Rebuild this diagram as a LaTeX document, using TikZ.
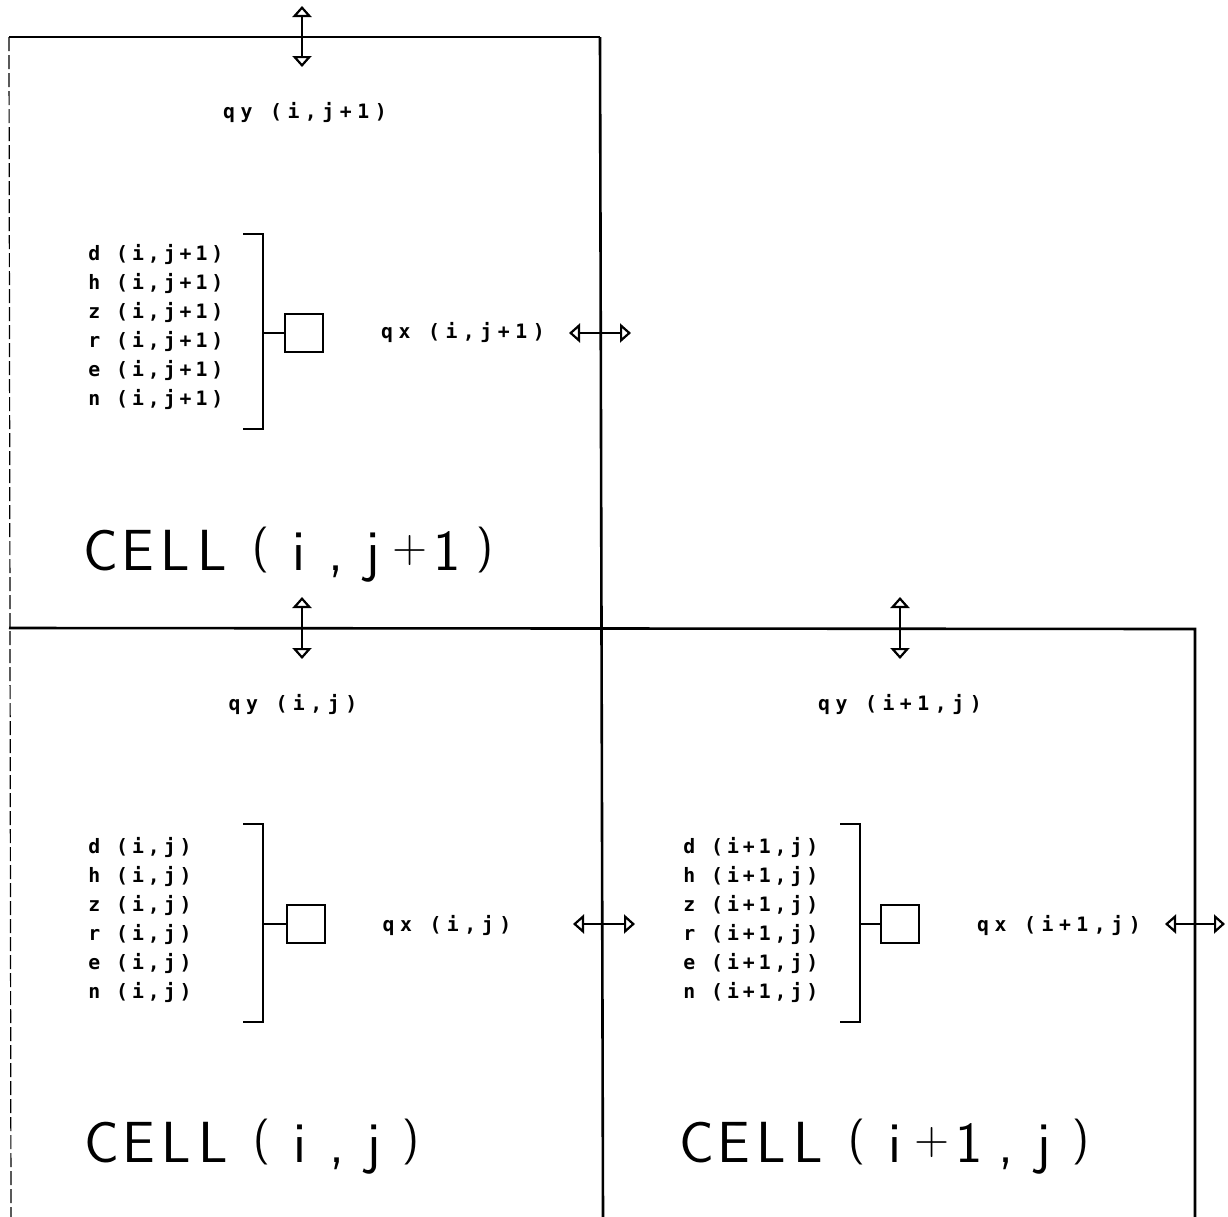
\documentclass[tikz,border=0pt]{standalone}
\usepackage{fontspec}
\usetikzlibrary{arrows.meta}
\newfontfamily\smallfont{DejaVu Sans Mono}[LetterSpace=20]
\newfontfamily\qfont{DejaVu Sans Mono}[LetterSpace=28]
\newfontfamily\bigfont{lmsans17-regular.otf}
\newcommand\cch[1]{\makebox[18.6pt]{#1}}
\newcommand\gapp{\hspace{5.75pt}}
\newcommand\plusg{\raisebox{4pt}{\fontsize{24}{26}\selectfont +}}
\newcommand\lpar{\raisebox{4.5pt}{\fontsize{23}{26}\selectfont (}}
\newcommand\rpar{\raisebox{4.5pt}{\fontsize{23}{26}\selectfont )}}
\tikzset{
  border/.style={line width=1.3pt},
  leftedge/.style={line width=0.6pt, dash pattern=on 7pt off 2pt},
  brk/.style={line width=1.3pt},
  valbox/.style={draw, line width=1pt, minimum width=19pt, minimum height=19pt, inner sep=0pt},
  flux/.style={line width=1.1pt,
    {Triangle[open,length=5.5pt,width=9.5pt]}-{Triangle[open,length=5.5pt,width=9.5pt]}},
  smalltxt/.style={inner sep=0pt, font=\smallfont\bfseries\fontsize{9.9}{14.5}\selectfont},
  qtxt/.style={inner sep=0pt, font=\qfont\bfseries\fontsize{9.9}{14.5}\selectfont},
  listtxt/.style={smalltxt, align=left, anchor=west},
  celltxt/.style={inner sep=0pt, anchor=base west, font=\bigfont\fontsize{29}{32}\selectfont},
}
\begin{document}
\begin{tikzpicture}[x=0.5pt,y=-0.5pt]
\useasboundingbox (0,0) rectangle (1228,1217);
% cell borders
\draw[leftedge] (9,37) -- (11,1217);
\draw[border] (9,37) -- (600,37);
\draw[border] (600,37) -- (603,1217);
\draw[border] (9,628) -- (1195,629) -- (1195,1217);

% ---------- CELL (i,j+1)
\coordinate (ay1a) at (302,6);   \coordinate (ay1b) at (302,67);
\draw[flux] (ay1a) -- (ay1b);
\node[qtxt] (qy1) at (305,113) {qy (i,j+1)};
\node[listtxt] (list1) at (88,327) {d (i,j+1)\\h (i,j+1)\\z (i,j+1)\\r (i,j+1)\\e (i,j+1)\\n (i,j+1)};
\coordinate (b1t) at (243,234); \coordinate (b1b) at (243,429);
\coordinate (b1m) at (263,333);
\draw[brk] (b1t) -- (263,234) -- (263,429) -- (b1b);
\node[valbox] (box1) at (304,333) {};
\draw[brk] (b1m) -- (box1.west);
\node[qtxt] (qx1) at (463,333) {qx (i,j+1)};
\coordinate (ax1a) at (569,333); \coordinate (ax1b) at (631,333);
\draw[flux] (ax1a) -- (ax1b);
\node[celltxt] (cell1) at (82,570) {\cch C\cch E\cch L\cch L\gapp\cch{\lpar}\cch i\cch,\cch j\cch{\plusg}\cch 1\cch{\rpar}};

% ---------- CELL (i,j)
\coordinate (ay2a) at (302,597); \coordinate (ay2b) at (302,659);
\draw[flux] (ay2a) -- (ay2b);
\node[qtxt] (qy2) at (293,704) {qy (i,j)};
\node[listtxt] (list2) at (88,920) {d (i,j)\\h (i,j)\\z (i,j)\\r (i,j)\\e (i,j)\\n (i,j)};
\coordinate (b2t) at (243,824); \coordinate (b2b) at (243,1022);
\coordinate (b2m) at (263,924);
\draw[brk] (b2t) -- (263,824) -- (263,1022) -- (b2b);
\node[valbox] (box2) at (306,924) {};
\draw[brk] (b2m) -- (box2.west);
\node[qtxt] (qx2) at (447,925) {qx (i,j)};
\coordinate (ax2a) at (573,924); \coordinate (ax2b) at (635,924);
\draw[flux] (ax2a) -- (ax2b);
\node[celltxt] (cell2) at (83,1162) {\cch C\cch E\cch L\cch L\gapp\cch{\lpar}\cch i\cch,\cch j\cch{\rpar}};

% ---------- CELL (i+1,j)
\coordinate (ay3a) at (900,597); \coordinate (ay3b) at (900,659);
\draw[flux] (ay3a) -- (ay3b);
\node[qtxt] (qy3) at (900,704) {qy (i+1,j)};
\node[listtxt] (list3) at (683,920) {d (i+1,j)\\h (i+1,j)\\z (i+1,j)\\r (i+1,j)\\e (i+1,j)\\n (i+1,j)};
\coordinate (b3t) at (840,824); \coordinate (b3b) at (840,1022);
\coordinate (b3m) at (860,924);
\draw[brk] (b3t) -- (860,824) -- (860,1022) -- (b3b);
\node[valbox] (box3) at (900,924) {};
\draw[brk] (b3m) -- (box3.west);
\node[qtxt] (qx3) at (1059,925) {qx (i+1,j)};
\coordinate (ax3a) at (1165,924); \coordinate (ax3b) at (1225,924);
\draw[flux] (ax3a) -- (ax3b);
\node[celltxt] (cell3) at (678,1162) {\cch C\cch E\cch L\cch L\gapp\cch{\lpar}\cch i\cch{\plusg}\cch 1\cch,\cch j\cch{\rpar}};
\end{tikzpicture}
\end{document}
